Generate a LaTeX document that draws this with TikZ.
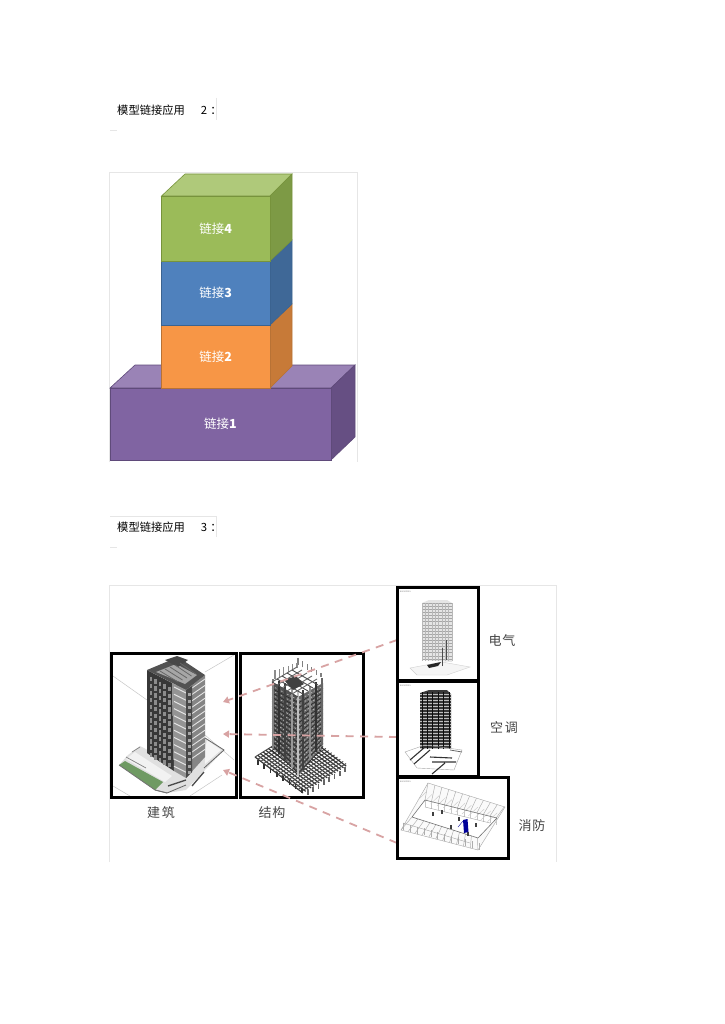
\documentclass[tikz,border=0pt]{standalone}
\usepackage{fontspec}
\setmainfont{Noto Sans CJK SC}
\usetikzlibrary{arrows.meta}
\definecolor{framegrey}{HTML}{E6E6E6}
\definecolor{gfront}{HTML}{9BBB59}\definecolor{gtop}{HTML}{AFC97A}\definecolor{gside}{HTML}{7D9A45}\definecolor{gedge}{HTML}{77933C}
\definecolor{bfront}{HTML}{4F81BD}\definecolor{bside}{HTML}{3F6897}\definecolor{bedge}{HTML}{3B6390}
\definecolor{ofront}{HTML}{F79646}\definecolor{oside}{HTML}{C77A38}\definecolor{oedge}{HTML}{B87235}
\definecolor{pfront}{HTML}{8064A2}\definecolor{ptop}{HTML}{9A83B6}\definecolor{pside}{HTML}{664F83}\definecolor{pedge}{HTML}{5F4A7A}
\definecolor{dashpink}{HTML}{D8A3A3}
\definecolor{labelgrey}{HTML}{444444}
\definecolor{lawn}{HTML}{6F9A63}
\tikzset{
  heading/.style={font=\fontsize{11.3}{13}\selectfont,text=black,anchor=west,inner sep=0pt},
  blocklabel/.style={font=\fontsize{12.5}{14}\selectfont,text=white,inner sep=0pt},
  blockface/.style={draw=#1,line width=0.8pt,inner sep=0pt},
  panel/.style={draw=black,line width=2.8pt,inner sep=0pt,outer sep=0pt},
  caption/.style={font=\fontsize{13}{15}\selectfont,text=labelgrey,inner sep=0pt},
  link/.style={draw=dashpink,line width=1.8pt,dash pattern=on 8pt off 6.5pt,-{Triangle[length=6pt,width=7pt]}},
  thinframe/.style={draw=framegrey,line width=0.7pt},
  tiny/.style={font=\fontsize{2}{2}\selectfont,text=black!50,inner sep=0pt,anchor=west}
}
\begin{document}
\begin{tikzpicture}[x=1pt,y=-1pt]
\useasboundingbox (0,0) rectangle (724,1024);
\fill[white] (0,0) rectangle (724,1024);

% ---------- heading 1
\node[heading] (h1) at (117,110) {模型链接应用\hspace{16pt}2\hspace{3pt}：};
\draw[thinframe] (216,98) -- (216,120);
\draw[thinframe] (110,130) -- (117,130);

% ---------- stack picture
\draw[thinframe] (109,462) -- (109,172) -- (357,172) -- (357,462);

% purple
\fill[ptop,draw=pedge,line width=.6pt] (110,388) -- (135,365) -- (355,365) -- (331,388) -- cycle;
\fill[pside,draw=pedge,line width=.6pt] (331,388) -- (355,365) -- (355,437) -- (331,460) -- cycle;
\node[blockface=pedge,fill=pfront,minimum width=221pt,minimum height=72pt,blocklabel] (l1) at (220.5,424) {链接\textbf{1}};
% orange
\fill[oside,draw=oedge,line width=.6pt] (270,325) -- (292,304) -- (292,366) -- (270,388) -- cycle;
\node[blockface=oedge,fill=ofront,minimum width=108.5pt,minimum height=63pt,blocklabel] (l2) at (215.7,356.5) {链接\textbf{2}};
% blue
\fill[bside,draw=bedge,line width=.6pt] (270,261) -- (292,240) -- (292,304) -- (270,325) -- cycle;
\node[blockface=bedge,fill=bfront,minimum width=108.5pt,minimum height=64pt,blocklabel] (l3) at (215.7,293) {链接\textbf{3}};
% green
\fill[gtop,draw=gedge,line width=.6pt] (161.5,196) -- (185,174) -- (292,174) -- (270,196) -- cycle;
\fill[gside,draw=gedge,line width=.6pt] (270,196) -- (292,174) -- (292,240) -- (270,261) -- cycle;
\node[blockface=gedge,fill=gfront,minimum width=108.5pt,minimum height=65pt,blocklabel] (l4) at (215.7,228.5) {链接\textbf{4}};

% ---------- heading 2
\node[heading] (h2) at (117,527) {模型链接应用\hspace{16pt}3\hspace{3pt}：};
\draw[thinframe] (110,516) -- (216,516) -- (216,537);
\draw[thinframe] (110,547) -- (117,547);

% ---------- model picture frame
\draw[thinframe] (109,862) -- (109,585) -- (556,585) -- (556,862);

% --- building A
\draw[black!22,line width=.5pt] (113,676) -- (147,700) (205,672) -- (234,655) (205,735) -- (234,760) (113,786) -- (130,796) (190,796) -- (222,775);
\fill[black!12] (119,765) -- (128,755) -- (140,746) -- (186,770) -- (205,738) -- (224,750) -- (186,790) -- (167,793) -- (155,790) -- cycle;
\fill[black!4] (207,740) -- (221,750) -- (205,764) -- (205,750) -- cycle;
\draw[black!60,line width=.8pt] (205,738) -- (224,750) -- (204,768) (186,785) -- (167,793) -- (155,790);
\draw[black!70,line width=1.3pt] (192,786) -- (204,772) (168,786) -- (186,780);
\fill[black!5] (126,759) -- (135,752) -- (172,776) -- (165,782) -- cycle;
\fill[lawn] (125,761) -- (163,782) -- (155,790) -- (119,765) -- cycle;
\draw[black!55,line width=.8pt] (119,765) -- (155,790) -- (167,793);
\draw[black!50,line width=.7pt] (132,752) -- (140,747) (126,757) -- (146,768);
% tower faces
\fill[black!78] (147,670) -- (172,683) -- (174,771) -- (147,753) -- cycle;
\fill[black!42] (172,683) -- (186,690) -- (186,778) -- (174,771) -- cycle;
\fill[black!48] (186,690) -- (205,675) -- (205,757) -- (186,778) -- cycle;
\foreach \i in {0,...,11}{
  \foreach \c in {0,...,4}{
    \fill[black!45] (149.5+\c*4.6,677+\i*6.9+\c*2.4) rectangle +(2.6,4.4);
  }
  \draw[black!10,line width=1pt] (174,687+\i*7.2) -- (186,693+\i*7.2);
  \draw[black!10,line width=.9pt] (192,688+\i*6.4) -- (205,679+\i*6.4);
}
\fill[black!72] (186,690) -- (192,686) -- (192,772) -- (186,778) -- cycle;
\foreach \i in {0,...,12}{\fill[black!35] (187.5,693+\i*6.5) rectangle +(3,3);}
% roof
\fill[black!68] (147,670) -- (178,657) -- (205,675) -- (186,690) -- cycle;
\fill[black!35] (156,672) -- (176,664) -- (197,675) -- (185,684) -- cycle;
\fill[black!72] (165,660) -- (177,656) -- (188,660) -- (178,667) -- cycle;
\foreach \i in {0,...,4}{\draw[black!60,line width=.8pt] (160+\i*5,671-\i*2) -- (178+\i*4.5,682-\i*2);}

% --- building B : base grid
\foreach \t in {0,.06,...,1.01}{
  \draw[black!80,line width=1.15pt] (255+45*\t,757-28*\t) -- (303+45*\t,793-28*\t);
  \draw[black!68,line width=1pt] (255+48*\t,757+36*\t) -- (300+48*\t,729+36*\t);
}
\foreach \t in {0,.14,...,1.01}{
  \fill[black!80] (257+45*\t,760+29*\t) rectangle +(1.6,5);
  \fill[black!60] (307+38*\t,790-23*\t) rectangle +(1.6,5);
}
% tower
\fill[black!68] (272,682) -- (298,697) -- (299,775) -- (272,747) -- cycle;
\fill[black!60] (298,697) -- (323,683) -- (323,745) -- (299,775) -- cycle;
\foreach \i in {0,...,14}{
  \draw[black!28,line width=.7pt,dash pattern=on 1.6pt off 1.8pt] (272,686+\i*4.4) -- (298,700+\i*5);
  \draw[black!28,line width=.7pt,dash pattern=on 1.6pt off 1.8pt] (299,700+\i*5) -- (323,686+\i*4.2);
  \draw[black!85,line width=.55pt] (272,688.5+\i*4.4) -- (298,702.5+\i*5);
  \draw[black!85,line width=.55pt] (299,702.5+\i*5) -- (323,688.5+\i*4.2);
}
\foreach \x/\y/\b/\s in {273/679/748/50,279/681/754/80,285/683/760/75,292/686/768/40,298/690/776/25,303/690/770/75,310/686/760/45,316/682/752/80,322/678/745/60}{
  \draw[line width=1.2pt,draw=black!\s] (\x,\y) -- (\x,\b);
}
\foreach \i in {0,...,5}{
  \draw[black!45,line width=1.1pt] (275+\i*4.4,679-\i*2.2) -- (275+\i*4.4,670-\i*1.5);
  \draw[black!50,line width=1.1pt] (298+\i*4.6,665+\i*2.4) -- (298+\i*4.6,658+\i*3);
}
\foreach \i in {0,...,4}{
  \draw[black!70,line width=.9pt] (272+\i*5,682-\i*3) -- (298+\i*5,697-\i*3);
  \draw[black!60,line width=.9pt] (272+\i*5,682+\i*3) -- (297+\i*5,667+\i*3);
}
\fill[black!75] (284,680) -- (296,676) -- (304,684) -- (293,690) -- cycle;

% panels A,B outlines
\node[panel,minimum width=125pt,minimum height=144pt] (A) at (174,725.5) {};
\node[panel,minimum width=123pt,minimum height=144pt] (B) at (302,725.5) {};

% links
\coordinate (a1) at (223,702);
\coordinate (a2) at (223,734);
\coordinate (a3) at (223,770);
\coordinate (c0) at (397,640);
\coordinate (d0) at (397,737);
\coordinate (e0) at (397,843);
\draw[link] (c0) -- (a1);
\draw[link] (d0) -- (a2);
\draw[link] (e0) -- (a3);

% panels C,D,E
\node[panel,fill=white,minimum width=81pt,minimum height=93pt] (C) at (438,634) {};
\node[panel,fill=white,minimum width=81pt,minimum height=95pt] (D) at (438,729) {};
\node[panel,fill=white,minimum width=111pt,minimum height=81pt] (E) at (453,818) {};

% --- model C
\fill[black!10] (422,603) -- (429,600) -- (447,600) -- (452,603) -- (452,662) -- (422,660) -- cycle;
\foreach \i in {0,...,18}{\draw[black!35,line width=.4pt] (422,603+\i*3.1) -- (452,603+\i*3.1);}
\foreach \i in {0,...,9}{\draw[black!28,line width=.4pt] (422+\i*3.33,603) -- (422+\i*3.33,661);}
\draw[black!18,line width=.4pt,fill=black!4] (410,668) -- (442,662) -- (470,667) -- (447,675) -- (417,675) -- cycle;
\fill[black!85] (427,665) -- (441,662) -- (438,666) -- (429,668) -- cycle;
\draw[black!70,line width=.7pt] (442,666) -- (442,648) (446,660) -- (446,640);
\node[tiny] (c1) at (400,591.5) {BIM MODEL};

% --- model D
\fill[black!78] (420,693) -- (429,690) -- (447,690) -- (451,694) -- (451,748) -- (420,748) -- cycle;
\foreach \i in {0,...,18}{\draw[black!25,line width=.4pt] (420,694+\i*3) -- (451,694+\i*3);}
\foreach \i in {0,...,5}{\draw[black!95,line width=.7pt] (422+\i*5.4,692) -- (422+\i*5.4,749);}
\draw[black!35,line width=.4pt] (405,752) -- (425,745) -- (462,750) -- (454,770) -- (417,768) -- cycle;
\draw[black!80,line width=1.1pt] (410,760) -- (425,747) (414,764) -- (430,750) (430,757) -- (452,758) (432,762) -- (456,762) (432,774) -- (445,763);
\draw[black!60,line width=.8pt] (450,750) -- (462,752);
\node[tiny] (d1) at (400,686) {BIM MODEL};

% --- model E
\draw[black!35,line width=.4pt,fill=black!2] (401,830) -- (428,783) -- (505,807) -- (478,850) -- cycle;
\fill[white] (412,817) -- (425,800) -- (497,818) -- (478,838) -- cycle;
\foreach \t in {0,.09,...,1.01}{
  \draw[black!32,line width=.45pt] (401+77*\t,830+20*\t) -- (412+66*\t,817+21*\t);
  \draw[black!32,line width=.45pt] (403+77*\t,823+20*\t) -- (403+77*\t,830+20*\t);
  \draw[black!32,line width=.45pt] (428+77*\t,783+24*\t) -- (425+72*\t,800+18*\t);
  \draw[black!20,line width=.45pt] (426+72*\t,792+21*\t) -- (418+70*\t,800+22*\t);
  \draw[black!22,line width=.45pt] (425+72*\t,800+18*\t) -- (425+72*\t,807+18*\t);
}
\draw[black!55,line width=.6pt] (412,817) -- (478,838) (425,800) -- (497,818) (425,800) -- (412,817) (497,818) -- (478,838);
\draw[black!35,line width=.4pt] (403,823) -- (470,843) (425,807) -- (490,823);
\foreach \x/\y in {431.5/812,440.5/810,449.5/825,457.5/817,466.5/832,474.5/823}{\fill[black!75] (\x,\y) rectangle +(2,3.6);}
\fill[blue!60!black] (463,820) -- (467.5,819) -- (468.5,832) -- (464,833) -- cycle;
\draw[blue!60!black,line width=.4pt] (458,827) -- (463,821);
\node[tiny] (e1) at (400,781.5) {BIM MODEL};

% captions
\node[caption] (t1) at (161,813) {建\hspace{2pt}筑};
\node[caption] (t2) at (272,813) {结\hspace{1pt}构};
\node[caption] (t3) at (502,641) {电\hspace{1pt}气};
\node[caption] (t4) at (504,728) {空\hspace{2pt}调};
\node[caption] (t5) at (532,826) {消\hspace{1pt}防};
\end{tikzpicture}
\end{document}
